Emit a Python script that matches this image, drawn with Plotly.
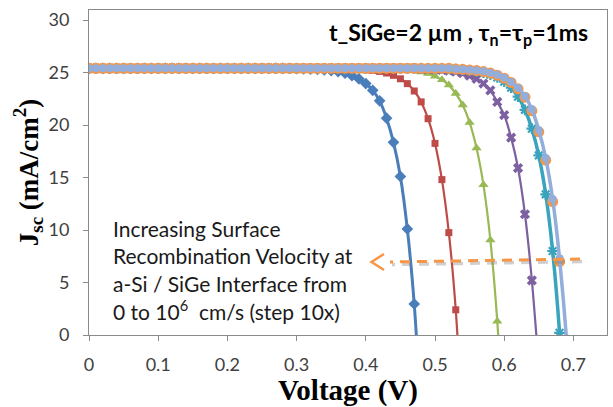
import plotly.graph_objects as go

voltage = [0.00,0.01,0.02,0.03,0.04,0.05,0.06,0.07,0.08,0.09,
           0.10,0.11,0.12,0.13,0.14,0.15,0.16,0.17,0.18,0.19,
           0.20,0.21,0.22,0.23,0.24,0.25,0.26,0.27,0.28,0.29,
           0.30,0.31,0.32,0.33,0.34,0.35,0.36,0.37,0.38,0.39,
           0.40,0.41,0.42,0.43,0.44,0.45,0.46,0.47,0.48,0.49,
           0.50,0.51,0.52,0.53,0.54,0.55,0.56,0.57,0.58,0.59,
           0.60,0.61,0.62,0.63,0.64,0.65,0.66,0.67,0.68,0.69,
           0.70]

# Jsc (mA/cm2) for each surface recombination velocity
j_s0 = [25.4,25.4,25.4,25.4,25.4,25.4,25.4,25.4,25.4,25.4,
        25.4,25.4,25.4,25.4,25.4,25.4,25.4,25.4,25.4,25.4,
        25.4,25.4,25.4,25.4,25.4,25.4,25.4,25.4,25.4,25.4,
        25.37,25.35,25.33,25.3,25.25,25.18,25.08,24.93,24.7,24.4,
        23.95,23.3,22.3,20.65,18.35,15.1,10.1,2.95,-7.5]
j_s1 = [25.4,25.4,25.4,25.4,25.4,25.4,25.4,25.4,25.4,25.4,
        25.4,25.4,25.4,25.4,25.4,25.4,25.4,25.4,25.4,25.4,
        25.4,25.4,25.4,25.4,25.4,25.4,25.4,25.4,25.4,25.4,
        25.4,25.4,25.4,25.4,25.4,25.4,25.4,25.36,25.34,25.31,
        25.26,25.2,25.1,24.95,24.73,24.4,23.94,23.24,22.2,20.6,
        18.25,14.8,9.75,2.4,-8.6]
j_s2 = [25.4,25.4,25.4,25.4,25.4,25.4,25.4,25.4,25.4,25.4,
        25.4,25.4,25.4,25.4,25.4,25.4,25.4,25.4,25.4,25.4,
        25.4,25.4,25.4,25.4,25.4,25.4,25.4,25.4,25.4,25.4,
        25.4,25.4,25.4,25.4,25.4,25.4,25.4,25.4,25.4,25.4,
        25.4,25.4,25.4,25.35,25.33,25.29,25.24,25.16,25.05,24.9,
        24.65,24.3,23.8,23.0,21.9,20.25,17.8,14.3,9.05,1.3,
        -10.0]
j_s3 = [25.4,25.4,25.4,25.4,25.4,25.4,25.4,25.4,25.4,25.4,
        25.4,25.4,25.4,25.4,25.4,25.4,25.4,25.4,25.4,25.4,
        25.4,25.4,25.4,25.4,25.4,25.4,25.4,25.4,25.4,25.4,
        25.4,25.4,25.4,25.4,25.4,25.4,25.4,25.4,25.4,25.4,
        25.4,25.4,25.4,25.4,25.4,25.4,25.4,25.4,25.35,25.33,
        25.3,25.25,25.18,25.07,24.93,24.7,24.4,23.95,23.3,22.2,
        20.95,18.8,15.9,11.5,5.2,-3.0]
j_s4 = [25.4,25.4,25.4,25.4,25.4,25.4,25.4,25.4,25.4,25.4,
        25.4,25.4,25.4,25.4,25.4,25.4,25.4,25.4,25.4,25.4,
        25.4,25.4,25.4,25.4,25.4,25.4,25.4,25.4,25.4,25.4,
        25.4,25.4,25.4,25.4,25.4,25.4,25.4,25.4,25.4,25.4,
        25.4,25.4,25.4,25.4,25.4,25.4,25.4,25.4,25.4,25.4,
        25.4,25.4,25.34,25.31,25.27,25.21,25.12,25.0,24.8,24.53,
        24.13,23.55,22.7,21.45,19.65,17.1,13.4,8.0,0.2,-11.1]
j_s5 = [25.4,25.4,25.4,25.4,25.4,25.4,25.4,25.4,25.4,25.4,
        25.4,25.4,25.4,25.4,25.4,25.4,25.4,25.4,25.4,25.4,
        25.4,25.4,25.4,25.4,25.4,25.4,25.4,25.4,25.4,25.4,
        25.4,25.4,25.4,25.4,25.4,25.4,25.4,25.4,25.4,25.4,
        25.4,25.4,25.4,25.4,25.4,25.4,25.4,25.4,25.4,25.4,
        25.4,25.4,25.4,25.33,25.3,25.25,25.18,25.09,24.95,24.75,
        24.46,24.05,23.45,22.65,21.35,19.35,16.65,12.7,7.0,-0.8,
        -12.0]
j_s6 = [25.4,25.4,25.4,25.4,25.4,25.4,25.4,25.4,25.4,25.4,
        25.4,25.4,25.4,25.4,25.4,25.4,25.4,25.4,25.4,25.4,
        25.4,25.4,25.4,25.4,25.4,25.4,25.4,25.4,25.4,25.4,
        25.4,25.4,25.4,25.4,25.4,25.4,25.4,25.4,25.4,25.4,
        25.4,25.4,25.4,25.4,25.4,25.4,25.4,25.4,25.4,25.4,
        25.4,25.4,25.4,25.34,25.31,25.26,25.2,25.11,24.98,24.78,
        24.5,24.1,23.52,22.75,21.5,19.5,16.85,12.95,7.3,-0.3,
        -11.5]

x_ticks = [0, 0.1, 0.2, 0.3, 0.4, 0.5, 0.6, 0.7]
x_tick_text = ["0", "0.1", "0.2", "0.3", "0.4", "0.5", "0.6", "0.7"]
y_ticks = [0, 5, 10, 15, 20, 25, 30]

series = [
    (j_s0, "#4A7EBB", 3.0, "diamond", 9, 0),
    (j_s1, "#BE4B48", 2.2, "square", 7, 0),
    (j_s2, "#98B954", 2.2, "triangle-up", 9, 0),
    (j_s3, "#7D60A0", 2.2, "x", 9, 0),
    (j_s4, "#3AA3BD", 3.5, "asterisk-open", 9, 2.2),
    (j_s5, "#F79646", 1.5, "circle", 11, 0),
    (j_s6, "#93AEDA", 3.5, "circle", 8, 0),
]

fig = go.Figure()
for ys, col, lw, sym, ms, mlw in series:
    marker = dict(symbol=sym, size=ms, color=col)
    if mlw:
        marker["line"] = dict(width=mlw, color=col)
    else:
        marker["line"] = dict(width=0)
    fig.add_trace(go.Scatter(
        x=voltage[:len(ys)], y=ys, mode="lines+markers",
        line=dict(color=col, width=lw, shape="spline", smoothing=0.6),
        marker=marker, showlegend=False, cliponaxis=True))

# pixel helpers for decorations
L, R, T, B = 89, 607, 10, 335
XMAX = (R - L) / 692.0
YMAX = (B - T) / 10.5

def dx(px):
    return (px - L) / 692.0

def dy(py):
    return (B - py) / 10.5

# dashed arrow with shadow
fig.add_shape(type="line", x0=dx(582), y0=dy(261.5), x1=dx(392), y1=dy(264.5),
              line=dict(color="rgba(120,120,120,0.35)", width=3.5, dash="10px,7px"))
fig.add_shape(type="line", x0=dx(580), y0=dy(259), x1=dx(390), y1=dy(262),
              line=dict(color="#F79646", width=3, dash="10px,7px"))
fig.add_shape(type="path",
              path="M {} {} L {} {} L {} {}".format(dx(384), dy(254), dx(371.5), dy(262), dx(384), dy(270)),
              line=dict(color="#F79646", width=2.5))

fig.add_annotation(x=dx(590), y=dy(33), xref="x", yref="y", xanchor="right", yanchor="middle",
                   showarrow=False,
                   text="<b>t_SiGe=2 µm , τ<sub>n</sub>=τ<sub>p</sub>=1ms</b>",
                   font=dict(family="Lato", size=23, color="#000000"))

ann_lines = ["Increasing Surface",
             "Recombination Velocity at",
             "a-Si / SiGe Interface from",
             "0 to 10<sup>6</sup>  cm/s (step 10x)"]
ann_y = [228, 255.5, 283, 310]
for t, py in zip(ann_lines, ann_y):
    fig.add_annotation(x=dx(111), y=dy(py), xref="x", yref="y", xanchor="left", yanchor="middle",
                       showarrow=False, text=t,
                       font=dict(family="Lato", size=21, color="#1a1a1a"))

fig.update_layout(
    width=613, height=407,
    margin=dict(l=L, r=613 - R, t=T, b=407 - B, autoexpand=False),
    paper_bgcolor="white", plot_bgcolor="white",
    xaxis=dict(range=[0, XMAX], tickvals=x_ticks, ticktext=x_tick_text, automargin=False,
               showgrid=False, zeroline=False, showline=True, linecolor="#8A8A8A",
               linewidth=1, mirror=True, ticks="outside", ticklen=5, tickcolor="#8A8A8A",
               ticklabelstandoff=8,
               tickfont=dict(family="Lato", size=18, color="#404040"),
               title=dict(text="<b>Voltage (V)</b>",
                          font=dict(family="Liberation Serif", size=29, color="#000000"),
                          standoff=2)),
    yaxis=dict(range=[0, YMAX], tickvals=y_ticks, automargin=False,
               showgrid=False, zeroline=False, showline=True, linecolor="#8A8A8A",
               linewidth=1, mirror=True, ticks="outside", ticklen=5, tickcolor="#8A8A8A",
               ticklabelstandoff=10,
               tickfont=dict(family="Lato", size=18, color="#404040"),
               title=dict(text="<b>J<sub>sc</sub> (mA/cm<sup>2</sup>)</b>",
                          font=dict(family="Liberation Serif", size=27, color="#000000"),
                          standoff=2)),
)

fig.write_html("out.html", config={"displayModeBar": False},
               post_script="document.body.style.margin='0';document.body.style.padding='0';")
